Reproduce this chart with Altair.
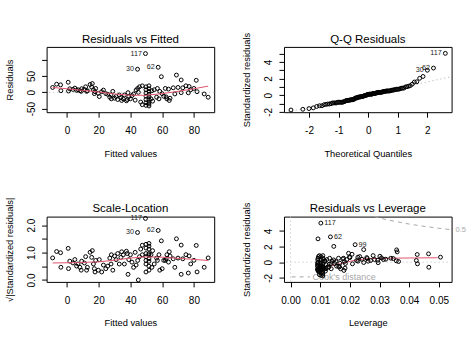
import altair as alt
import numpy as np
import pandas as pd
from statistics import NormalDist

FONT = "Liberation Sans"
RED = "#DF536B"
GREY = "#A8A8A8"

# ---------------- data ----------------
# Residuals vs Fitted (first four rows are the labelled cases)
fitted = [49.5, 44.5, 57.5, 69.0,
          -9.0, -6.5, -4.0, -3.8, 0.8, 1.0, 1.8, 3.8, 5.0, 6.1, 8.2, 9.3, 9.0, 7.0,
          11.0, 11.8, 12.4, 12.9, 14.6, 15.6, 16.0, 16.7, 17.3, 17.7, 18.1, 19.8, 20.4, 21.9,
          23.0, 24.5, 25.7, 27.0, 27.8, 28.9, 28.0, 30.0, 31.0, 32.0, 33.0, 34.0, 34.5, 35.5,
          36.2, 37.5, 38.0, 38.5, 39.0, 40.0, 41.0, 42.0, 43.0, 43.6, 44.6, 45.0, 45.7, 46.5,
          47.5, 47.5, 49.8, 49.8, 49.8, 49.8, 49.8, 49.8, 49.8, 51.7, 51.7, 51.7, 51.7, 51.7,
          51.7, 51.7, 51.7, 51.7, 53.0, 53.5, 54.0, 55.0,
          56.5, 57.0, 58.0, 58.5, 59.5, 60.0, 61.0, 62.0, 62.5, 63.0, 64.0, 64.5, 65.0, 67.0,
          68.0, 70.0, 72.0, 72.0, 73.0, 75.0, 76.5, 77.0, 78.0, 80.0, 81.5, 82.0, 86.5, 89.0]
resid = [119, 71, 77, 53,
         15, 25, 23, 5, 31, 4, 11, 9, 13, 6, 5, 11, 3, 8,
         9, 17, 3, 5, 24, 16, 27, 8, -4, 2, 12, -3, -13, 2,
         7, -4, -6, -15, -8, 3, -20, -18, -13, -22, -8, -16, -25, -20,
         -8, -26, -22, -1, -13, -20, -10, -5, -24, 7, 12, 0, 17, -30,
         20, -38, 17, 8, -2, -12, -22, -32, -40, 20, 11, 3, -6, -14,
         -22, -30, -36, -42, -20, 5, -27, 8,
         -15, 12, -20, 3, 48, -4, -12, 12, -14, -20, 10, -25, -18, 14,
         -5, 15, 38, -1, 14, 20, -1.5, 18, 8, 12, 37, 2, -5, -15]
labels_main = ["117", "30", "62", ""]      # panels 1-3
labels_lev = ["117", "", "62", "99"]       # panel 4
resid_se = 23.8                            # residual standard error

# red smoother lines
smooth1_x = [-9, 0, 10, 20, 30, 40, 50, 60, 70, 80, 89]
smooth1_y = [15, 11, 6, 1, -5, -9, -9, -4, 3, 11, 19]
smooth3_x = [-9, 5, 20, 30, 40, 50, 60, 70, 80, 89]
smooth3_y = [0.62, 0.63, 0.66, 0.72, 0.80, 0.84, 0.83, 0.79, 0.75, 0.71]
smooth4_x = [0.0092, 0.012, 0.015, 0.018, 0.021, 0.025, 0.03, 0.04, 0.0496]
smooth4_y = [-0.85, -0.6, -0.35, -0.1, 0.2, 0.42, 0.5, 0.54, 0.57]
# Q-Q reference line end points
qqline_x = [-2.845, 2.82]
qqline_y = [-2.13, 2.23]
# Cook's distance 0.5 contour
cook_x = [0.0283, 0.032, 0.036, 0.040, 0.045, 0.050, 0.0543]
cook_y = [5.86, 5.50, 5.19, 4.90, 4.61, 4.36, 4.17]

titles = ["Residuals vs Fitted", "Q-Q Residuals", "Scale-Location", "Residuals vs Leverage"]

assert len(fitted) == len(resid)
n = len(fitted)
f = np.array(fitted, dtype=float)
r = np.array(resid, dtype=float)
dev = f - f.mean()
lev = 1.0 / n + dev ** 2 / (dev ** 2).sum()
std = r / (resid_se * np.sqrt(1 - lev))
sl = np.sqrt(np.abs(std))
order = np.argsort(std)
theo = np.array([NormalDist().inv_cdf((i + 0.5) / n) for i in range(n)])
qx = np.empty(n)
qx[order] = theo

df = pd.DataFrame({
    "fitted": f, "resid": r, "lev": lev, "std": std, "sl": sl, "qx": qx,
    "lab": labels_main + [""] * (n - len(labels_main)),
    "lab4": labels_lev + [""] * (n - len(labels_lev)),
})

W, H = 167.6, 65.3
MINUS = "replace(datum.label, '\u2212', '-')"


def pts(x, y, xs, ys, xa, ya):
    return alt.Chart(df).mark_point(shape="circle", filled=False, color="#000000",
                                    size=15, strokeWidth=1.0, opacity=1).encode(
        x=alt.X(x, scale=xs, axis=xa), y=alt.Y(y, scale=ys, axis=ya))


def labs(x, y, xs, ys, xa, ya, col="lab", left=True):
    return alt.Chart(df).transform_filter(f"datum.{col} != ''").mark_text(
        align="right" if left else "left", baseline="middle",
        dx=-3.5 if left else 3.5, fontSize=7.2, font=FONT, color="#222222").encode(
        x=alt.X(x, scale=xs, axis=xa), y=alt.Y(y, scale=ys, axis=ya), text=f"{col}:N")


def line(xv, yv, xs, ys, xa, ya, **mk):
    d = pd.DataFrame({"x": xv, "y": yv})
    return alt.Chart(d).mark_line(**mk).encode(
        x=alt.X("x:Q", scale=xs, axis=xa), y=alt.Y("y:Q", scale=ys, axis=ya))


def title_mark(i):
    return alt.Chart(pd.DataFrame({"t": [titles[i]]})).mark_text(
        font=FONT, fontSize=11.5, baseline="alphabetic", align="center",
        color="#000000").encode(x=alt.value(W / 2), y=alt.value(-4.2), text="t:N")


# ---------- panel 1: Residuals vs Fitted ----------
xs1 = alt.Scale(domain=[-12.8, 92.8], nice=False, zero=False)
ys1 = alt.Scale(domain=[-61, 139.6], nice=False, zero=False)
xa1 = alt.Axis(values=[0, 20, 40, 60, 80], title="Fitted values", format="d")
ya1 = alt.Axis(values=[-50, 0, 50, 100], title="Residuals", format="d",
               labelExpr=f"datum.value == 100 ? '' : {MINUS}")
zero1 = alt.Chart(pd.DataFrame({"y": [0]})).mark_rule(
    color="#BEBEBE", strokeDash=[1, 3], strokeWidth=1).encode(
    y=alt.Y("y:Q", scale=ys1, axis=ya1))
p1 = alt.layer(
    zero1,
    pts("fitted:Q", "resid:Q", xs1, ys1, xa1, ya1),
    line(smooth1_x, smooth1_y, xs1, ys1, xa1, ya1, color=RED, strokeWidth=1),
    labs("fitted:Q", "resid:Q", xs1, ys1, xa1, ya1),
    title_mark(0),
).properties(width=W, height=H)

# ---------- panel 2: Q-Q Residuals ----------
xs2 = alt.Scale(domain=[-2.845, 2.82], nice=False, zero=False)
ys2 = alt.Scale(domain=[-2.04, 5.8], nice=False, zero=False)
xa2 = alt.Axis(values=[-2, -1, 0, 1, 2], title="Theoretical Quantiles", format="d",
               labelExpr=MINUS)
ya2 = alt.Axis(values=[-2, -1, 0, 1, 2, 3, 4, 5], title="Standardized residuals",
               format="d", labelExpr=f"datum.value % 2 == 0 ? {MINUS} : ''")
p2 = alt.layer(
    line(qqline_x, qqline_y, xs2, ys2, xa2, ya2, color="#AAAAAA",
         strokeDash=[1, 3], strokeWidth=1, clip=True),
    pts("qx:Q", "std:Q", xs2, ys2, xa2, ya2),
    labs("qx:Q", "std:Q", xs2, ys2, xa2, ya2),
    title_mark(1),
).properties(width=W, height=H)

# ---------- panel 3: Scale-Location ----------
ys3 = alt.Scale(domain=[-0.07, 2.31], nice=False, zero=False)
ya3 = alt.Axis(values=[0, 0.5, 1, 1.5, 2], title="\u221a|Standardized residuals|",
               format=".1f", labelExpr="datum.value % 1 == 0 ? datum.label : ''")
p3 = alt.layer(
    pts("fitted:Q", "sl:Q", xs1, ys3, xa1, ya3),
    line(smooth3_x, smooth3_y, xs1, ys3, xa1, ya3, color=RED, strokeWidth=1),
    labs("fitted:Q", "sl:Q", xs1, ys3, xa1, ya3),
    title_mark(2),
).properties(width=W, height=H)

# ---------- panel 4: Residuals vs Leverage ----------
xs4 = alt.Scale(domain=[-0.0022, 0.0543], nice=False, zero=False)
ys4 = alt.Scale(domain=[-2.53, 5.86], nice=False, zero=False)
xa4 = alt.Axis(values=[0, 0.01, 0.02, 0.03, 0.04, 0.05], title="Leverage", format=".2f")
ya4 = alt.Axis(values=[-2, 0, 2, 4], title="Standardized residuals", format="d",
               labelExpr=MINUS)
vz = alt.Chart(pd.DataFrame({"x": [0]})).mark_rule(
    color="#BEBEBE", strokeDash=[1, 3], strokeWidth=1).encode(
    x=alt.X("x:Q", scale=xs4, axis=xa4))
hz = alt.Chart(pd.DataFrame({"y": [0]})).mark_rule(
    color="#BEBEBE", strokeDash=[1, 3], strokeWidth=1).encode(
    y=alt.Y("y:Q", scale=ys4, axis=ya4))
cook_df = pd.DataFrame({"x": cook_x, "y": cook_y,
                        "t": [""] * (len(cook_x) - 1) + ["0.5"]})
cook_line = alt.Chart(cook_df).mark_line(color=GREY, strokeDash=[4, 4], strokeWidth=1).encode(
    x=alt.X("x:Q", scale=xs4, axis=xa4), y=alt.Y("y:Q", scale=ys4, axis=ya4))
cook_lab = alt.Chart(cook_df).transform_filter("datum.t != ''").mark_text(
    align="left", baseline="middle", dx=4, fontSize=7.5, font=FONT, color=GREY).encode(
    x=alt.X("x:Q", scale=xs4, axis=xa4), y=alt.Y("y:Q", scale=ys4, axis=ya4), text="t:N")
leg_df = pd.DataFrame({"t": ["Cook's distance"]})
leg_rule = alt.Chart(leg_df).mark_rule(color=GREY, strokeDash=[4, 4], strokeWidth=1).encode(
    x=alt.value(7.6), x2=alt.value(26.0), y=alt.value(60.3))
leg_text = alt.Chart(leg_df).mark_text(
    align="left", baseline="middle", fontSize=9, font=FONT, color=GREY).encode(
    x=alt.value(28.5), y=alt.value(60.5), text="t:N")
p4 = alt.layer(
    vz, hz, cook_line, cook_lab, leg_rule, leg_text,
    line(smooth4_x, smooth4_y, xs4, ys4, xa4, ya4, color=RED, strokeWidth=1),
    pts("lev:Q", "std:Q", xs4, ys4, xa4, ya4),
    labs("lev:Q", "std:Q", xs4, ys4, xa4, ya4, col="lab4", left=False),
    title_mark(3),
).properties(width=W, height=H)

chart = alt.concat(
    p1, p2, p3, p4, columns=2,
    spacing=alt.RowColnumber(row=103.7, column=69.4), bounds="flush",
).properties(
    padding={"left": 3.6, "top": 30.9, "right": 4, "bottom": 4},
    background="white",
).configure_view(
    stroke="#000000", strokeWidth=1,
).configure_axis(
    labelFont=FONT, titleFont=FONT, labelFontSize=10, titleFontSize=9.3,
    labelColor="#000000", titleColor="#000000", titleFontWeight="normal",
    tickSize=5, tickColor="#000000", tickWidth=1, domain=False, grid=False,
    labelOverlap=False, labelFlush=False, labelBound=False,
).configure_axisX(
    labelAngle=0, labelPadding=8.5, titleY=44, titleBaseline="alphabetic",
).configure_axisY(
    labelAngle=270, labelAlign="center", labelBaseline="alphabetic", labelPadding=7.4,
    titleAngle=270, titleAlign="center", titleBaseline="alphabetic",
    titleX=-34.5, titleY=H / 2,
)

chart.save("out.html", embed_options={"renderer": "svg", "actions": False})
